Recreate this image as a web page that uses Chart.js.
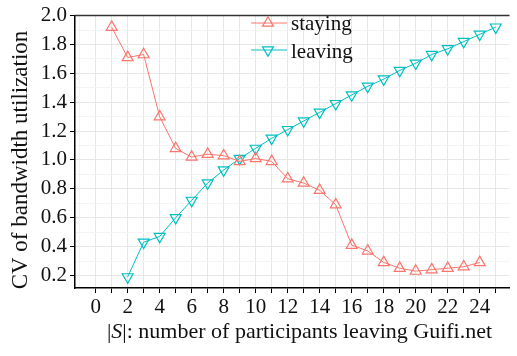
<!DOCTYPE html>
<html>
<head>
<meta charset="utf-8">
<script src="https://cdn.jsdelivr.net/npm/chart.js@4.4.1/dist/chart.umd.min.js"></script>
<style>
  html, body { margin: 0; padding: 0; background: #fff; }
</style>
</head>
<body>
<canvas id="myChart" width="517" height="356"></canvas>
<script>
// values
const stayingX = [1, 2, 3, 4, 5, 6, 7, 8, 9, 10, 11, 12, 13, 14, 15, 16, 17, 18, 19, 20, 21, 22, 23, 24];
const stayingCV = [1.92, 1.71, 1.73, 1.30, 1.08, 1.02, 1.04, 1.03, 0.99, 1.01, 0.99, 0.87, 0.84, 0.79, 0.69, 0.41, 0.37, 0.29, 0.25, 0.23, 0.24, 0.25, 0.26, 0.29];
const leavingX = [2, 3, 4, 5, 6, 7, 8, 9, 10, 11, 12, 13, 14, 15, 16, 17, 18, 19, 20, 21, 22, 23, 24, 25];
const leavingCV = [0.19, 0.43, 0.47, 0.60, 0.72, 0.84, 0.93, 1.01, 1.08, 1.15, 1.21, 1.27, 1.33, 1.39, 1.45, 1.51, 1.56, 1.62, 1.67, 1.73, 1.77, 1.82, 1.87, 1.92];
const seriesNames = ['staying', 'leaving'];
const xTickLabels = [0, 2, 4, 6, 8, 10, 12, 14, 16, 18, 20, 22, 24];
const yTickLabels = [0.2, 0.4, 0.6, 0.8, 1.0, 1.2, 1.4, 1.6, 1.8, 2.0];
const yTitle = 'CV of bandwidth utilization';
const xTitleParts = ['|', 'S', '|: number of participants leaving Guifi.net'];

const RED = '#F8766D';
const CYAN = '#00BFC4';
const FONT = 'Liberation Serif';
const INK = '#111';

const toPoints = (xs, ys) => xs.map((x, i) => ({ x: x, y: ys[i] }));
const isLabel = (list, v) => list.some(t => Math.abs(t - v) < 1e-6);

// top frame line, axis titles (italic S) and the legend inside the panel
const panelExtras = {
  id: 'panelExtras',
  afterDraw(chart) {
    const ctx = chart.ctx;
    const area = chart.chartArea;
    ctx.save();
    ctx.strokeStyle = '#333';
    ctx.lineWidth = 1.5;
    ctx.beginPath();
    ctx.moveTo(area.left, area.top);
    ctx.lineTo(area.right, area.top);
    ctx.stroke();

    // y title
    ctx.fillStyle = INK;
    ctx.font = '23px "' + FONT + '"';
    ctx.textAlign = 'center';
    ctx.textBaseline = 'alphabetic';
    ctx.save();
    ctx.translate(27, 160);
    ctx.rotate(-Math.PI / 2);
    ctx.fillText(yTitle, 0, 0);
    ctx.restore();

    // x title, S in italics
    const fonts = ['22px "' + FONT + '"', 'italic 22px "' + FONT + '"', '22px "' + FONT + '"'];
    let total = 0;
    const widths = xTitleParts.map((p, i) => { ctx.font = fonts[i]; const w = ctx.measureText(p).width; total += w; return w; });
    let x = 299.5 - total / 2;
    ctx.textAlign = 'left';
    xTitleParts.forEach((p, i) => {
      ctx.font = fonts[i];
      ctx.fillText(p, x, 338);
      x += widths[i];
    });

    const rows = [
      { name: seriesNames[0], color: RED, up: true, y: 23, base: 30 },
      { name: seriesNames[1], color: CYAN, up: false, y: 50, base: 57.5 }
    ];
    rows.forEach(r => {
      ctx.strokeStyle = r.color;
      ctx.lineWidth = 1;
      ctx.beginPath();
      ctx.moveTo(251, r.y);
      ctx.lineTo(287, r.y);
      ctx.stroke();
      const rad = 6.3;
      const s = r.up ? 1 : -1;
      ctx.lineWidth = 1.2;
      ctx.beginPath();
      ctx.moveTo(268, r.y - s * rad);
      ctx.lineTo(268 + rad * 0.866, r.y + s * rad / 2);
      ctx.lineTo(268 - rad * 0.866, r.y + s * rad / 2);
      ctx.closePath();
      ctx.stroke();
      ctx.fillStyle = INK;
      ctx.font = '21px "' + FONT + '"';
      ctx.textAlign = 'left';
      ctx.textBaseline = 'alphabetic';
      ctx.fillText(r.name, 291, r.base);
    });
    ctx.restore();
  }
};

const ctx = document.getElementById('myChart').getContext('2d');

new Chart(ctx, {
  type: 'line',
  data: {
    datasets: [
      {
        label: seriesNames[0],
        data: toPoints(stayingX, stayingCV),
        borderColor: RED,
        borderWidth: 1,
        pointStyle: 'triangle',
        pointRadius: 6.3,
        pointBorderWidth: 1.2,
        pointBorderColor: RED,
        pointBackgroundColor: 'rgba(0,0,0,0)',
        tension: 0
      },
      {
        label: seriesNames[1],
        data: toPoints(leavingX, leavingCV),
        borderColor: CYAN,
        borderWidth: 1,
        pointStyle: 'triangle',
        pointRotation: 180,
        pointRadius: 6.3,
        pointBorderWidth: 1.2,
        pointBorderColor: CYAN,
        pointBackgroundColor: 'rgba(0,0,0,0)',
        tension: 0
      }
    ]
  },
  options: {
    responsive: false,
    animation: false,
    layout: { padding: { top: 8, right: 0, left: 0, bottom: 0 } },
    plugins: {
      legend: { display: false },
      tooltip: { enabled: false }
    },
    scales: {
      x: {
        type: 'linear',
        min: -1.29,
        max: 25.86,
        afterBuildTicks: (axis) => {
          const t = [];
          for (let v = -1; v <= 25; v++) t.push({ value: v });
          axis.ticks = t;
        },
        afterFit: (axis) => { axis.height = 68; },
        ticks: {
          autoSkip: false,
          maxRotation: 0,
          padding: 2,
          color: INK,
          font: { family: FONT, size: 21 },
          callback: (v) => isLabel(xTickLabels, v) ? String(v) : ''
        },
        grid: {
          color: (c) => c.tick && c.tick.value < 0 ? '#f4f4f4' : '#e6e6e6',
          tickColor: (c) => c.tick && c.tick.value < 0 ? 'rgba(0,0,0,0)' : '#000',
          tickLength: 5,
          lineWidth: 1
        },
        border: { color: '#000', width: 1.5 }
      },
      y: {
        type: 'linear',
        min: 0.113,
        max: 2.0,
        afterBuildTicks: (axis) => {
          const t = [];
          for (let k = 2; k <= 20; k++) t.push({ value: k / 10 });
          axis.ticks = t;
        },
        afterFit: (axis) => { axis.width = 75; },
        ticks: {
          autoSkip: false,
          padding: 3,
          color: INK,
          font: { family: FONT, size: 21 },
          callback: (v) => isLabel(yTickLabels, v) ? v.toFixed(1) : ''
        },
        grid: {
          color: (c) => c.tick && isLabel(yTickLabels, c.tick.value) ? '#e6e6e6' : '#f4f4f4',
          tickColor: (c) => c.tick && isLabel(yTickLabels, c.tick.value) ? '#000' : 'rgba(0,0,0,0)',
          tickLength: 5,
          lineWidth: 1
        },
        border: { color: '#000', width: 1.5 }
      }
    }
  },
  plugins: [panelExtras]
});
</script>
</body>
</html>
